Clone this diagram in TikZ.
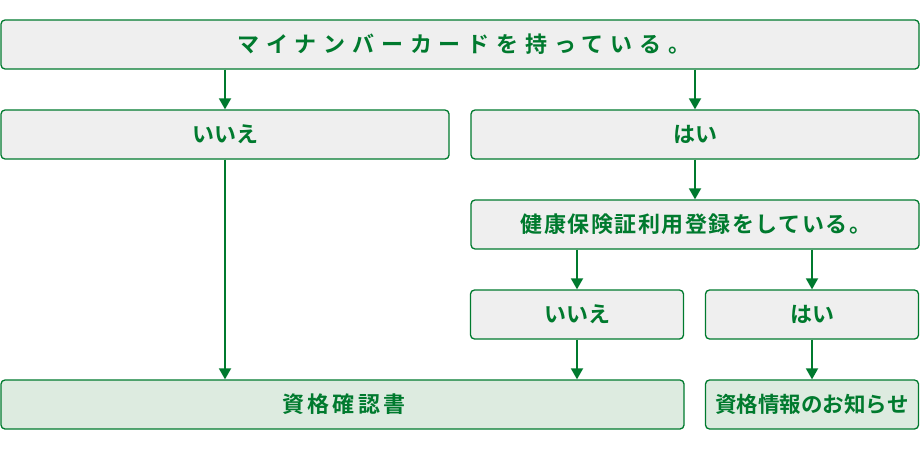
\documentclass[tikz,border=0pt]{standalone}
\usepackage{fontspec}
\setmainfont{Noto Sans CJK JP}[BoldFont={Noto Sans CJK JP Bold}]
\usetikzlibrary{arrows.meta}
\definecolor{grn}{HTML}{007A2E}
\definecolor{gfill}{HTML}{EFEFEF}
\definecolor{lgfill}{HTML}{DDEBE0}
\tikzset{
  box/.style={draw=grn, line width=1.3pt, fill=gfill, rounded corners=4pt,
    text=grn, font=\fontsize{22pt}{26pt}\selectfont\bfseries, inner sep=0pt, minimum height=49pt},
  gbox/.style={box, fill=lgfill},
  arr/.style={draw=grn, line width=1.8pt, -{Triangle[width=12pt,length=11pt]}}
}
\begin{document}
\begin{tikzpicture}[x=1pt,y=-1pt]
\useasboundingbox (0,0) rectangle (920,450);
\node[box, minimum width=918pt] (top) at (460,44.5) {\kern8pt\addfontfeature{LetterSpace=31}マイナンバーカードを持っている。};
\node[box, minimum width=448pt] (no1) at (225,134.5) {いいえ};
\node[box, minimum width=448pt] (yes1) at (695,134.5) {はい};
\node[box, minimum width=448pt] (reg) at (695,224.5) {\kern2pt\addfontfeature{LetterSpace=7}健康保険証利用登録をしている。};
\node[box, minimum width=213pt] (no2) at (577,314.5) {いいえ};
\node[box, minimum width=213pt] (yes2) at (812,314.5) {はい};
\node[gbox, minimum width=683pt] (card) at (342.5,404.5) {\kern3pt\addfontfeature{LetterSpace=14}資格確認書};
\node[gbox, minimum width=213pt] (info) at (812,404.5) {\fontsize{21.5pt}{26pt}\selectfont 資格情報のお知らせ};
\draw[arr] (top.south -| no1.north) -- (no1.north);
\draw[arr] (top.south -| yes1.north) -- (yes1.north);
\draw[arr] (yes1.south) -- (reg.north);
\draw[arr] (reg.south -| no2.north) -- (no2.north);
\draw[arr] (reg.south -| yes2.north) -- (yes2.north);
\draw[arr] (no1.south) -- (no1.south |- card.north);
\draw[arr] (no2.south) -- (no2.south |- card.north);
\draw[arr] (yes2.south) -- (info.north);
\end{tikzpicture}
\end{document}
